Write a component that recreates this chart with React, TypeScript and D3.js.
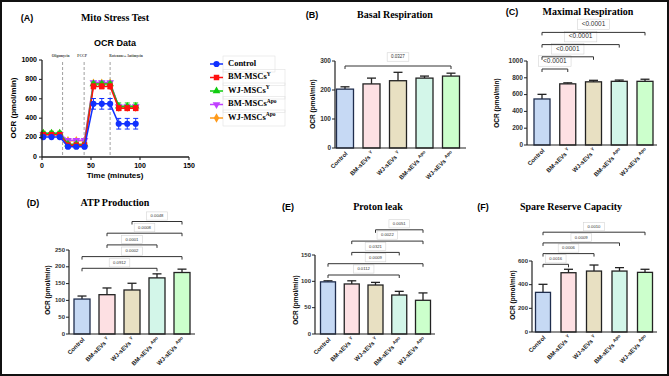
import React from 'react';
import * as d3 from 'd3';

// (A) Mito stress test time course
const times = [1.3, 9.7, 18.1, 26.5, 35, 43.4, 52.5, 61, 69.5, 78.3, 87, 95.6];
const injections = [21, 43, 69.5];
const injectionNames = ['Oligomycin', 'FCCP', 'Rotenone+ Antimycin'];

const ocrControl = [205, 205, 205, 106, 106, 106, 548, 548, 548, 343, 343, 343];
const ocrControlErr = [15, 15, 15, 15, 15, 15, 55, 55, 55, 55, 55, 55];
const ocrBmY = [230, 230, 230, 122, 122, 122, 728, 728, 728, 503, 503, 503];
const ocrBmYErr = [20, 20, 20, 15, 15, 15, 25, 25, 25, 25, 25, 25];
const ocrWjY = [245, 245, 245, 132, 132, 132, 752, 752, 752, 522, 522, 522];
const ocrWjYErr = [20, 20, 20, 15, 15, 15, 20, 20, 20, 35, 35, 35];
const ocrBmApo = [235, 235, 235, 172, 172, 172, 768, 768, 768, 520, 520, 520];
const ocrBmApoErr = [15, 15, 15, 15, 15, 15, 15, 15, 15, 20, 20, 20];
const ocrWjApo = [240, 240, 240, 168, 168, 168, 760, 760, 760, 512, 512, 512];
const ocrWjApoErr = [15, 15, 15, 15, 15, 15, 15, 15, 15, 20, 20, 20];

const seriesNames = ['Control', 'BM-MSCs', 'WJ-MSCs', 'BM-MSCs', 'WJ-MSCs'];
const seriesSup = ['', 'Y', 'Y', 'Apo', 'Apo'];
const seriesColors = ['#1030ff', '#ff1010', '#10cc10', '#c040ff', '#ff9a1a'];

// (B)-(F) bar panels
const groupNames = ['Control', 'BM-sEVs', 'WJ-sEVs', 'BM-sEVs', 'WJ-sEVs'];
const groupSup = ['', 'Y', 'Y', 'Apo', 'Apo'];
const barColors = ['#c6d9f4', '#fde0e3', '#e8e0c2', '#d3f6e9', '#ccffcc'];

const basalMean = [203, 221, 232, 241, 248];
const basalErr = [8, 20, 29, 7, 10];
const maximalMean = [548, 728, 752, 758, 758];
const maximalErr = [55, 12, 18, 15, 25];
const atpMean = [104, 117, 131, 167, 183];
const atpErr = [9, 20, 20, 12, 10];
const protonMean = [99, 95, 93, 74, 64];
const protonErr = [2, 6, 5, 7, 14];
const spareMean = [335, 501, 515, 515, 504];
const spareErr = [68, 29, 51, 29, 26];

type Sig = [number, number, string];
const basalSig: Sig[] = [[0, 4, '0.0327']];
const maximalSig: Sig[] = [[0, 1, '<0.0001'], [0, 2, '<0.0001'], [0, 3, '<0.0001'], [0, 4, '<0.0001']];
const atpSig: Sig[] = [[0, 3, '0.0912'], [0, 4, '0.0002'], [1, 3, '0.0001'], [1, 4, '0.0008'], [2, 4, '0.0048']];
const protonSig: Sig[] = [[0, 3, '0.0112'], [0, 4, '0.0009'], [1, 3, '0.0321'], [1, 4, '0.0022'], [2, 4, '0.0051']];
const spareSig: Sig[] = [[0, 1, '0.0016'], [0, 2, '0.0006'], [0, 3, '0.0009'], [0, 4, '0.0010']];

const SANS = 'Liberation Sans, Arial, sans-serif';
const SERIF = 'Liberation Serif, Times New Roman, serif';

type PanelCfg = {
  tag: string; title: string; tagX: number; titleX: number; headY: number;
  axisX: number; axisEnd: number; c0: number; c1: number; yTop: number; yBottom: number;
  max: number; step: number; barW: number; yLabelX: number; yLabelY: number;
  sigBase: number; sigGap: number; sigOff: number; sigFont: number; tickFont: number;
};

const BarPanel: React.FC<{ cfg: PanelCfg; means: number[]; errs: number[]; sigs: Sig[] }> = ({ cfg, means, errs, sigs }) => {
  const x = d3.scalePoint<number>().domain(d3.range(means.length)).range([cfg.c0, cfg.c1]);
  const y = d3.scaleLinear().domain([0, cfg.max]).range([cfg.yBottom, cfg.yTop]);
  const ticks = d3.range(0, cfg.max + 1, cfg.step);
  const hw = cfg.barW / 2;
  return (
    <g>
      <text x={cfg.tagX} y={cfg.headY} fontFamily={SANS} fontWeight="bold" fontSize={9} textAnchor="middle" dominantBaseline="middle">{cfg.tag}</text>
      <text x={cfg.titleX} y={cfg.headY} fontFamily={SERIF} fontWeight="bold" fontSize={10} textAnchor="middle" dominantBaseline="middle">{cfg.title}</text>
      <text transform={`translate(${cfg.yLabelX},${cfg.yLabelY}) rotate(-90)`} fontFamily={SANS} fontWeight="bold" fontSize={6.5} textAnchor="middle" dominantBaseline="middle">OCR (pmol/min)</text>
      {means.map((m, i) => (
        <g key={i}>
          <line x1={x(i)} x2={x(i)} y1={y(m)} y2={y(m + errs[i])} stroke="#222" strokeWidth={1.3} />
          <line x1={x(i)! - 4.5} x2={x(i)! + 4.5} y1={y(m + errs[i])} y2={y(m + errs[i])} stroke="#222" strokeWidth={1.3} />
          <rect x={x(i)! - hw} y={y(m)} width={cfg.barW} height={cfg.yBottom - y(m)} fill={barColors[i]} stroke={i === 0 ? '#1f2d4d' : '#222'} strokeWidth={1.3} />
        </g>
      ))}
      <line x1={cfg.axisX} x2={cfg.axisX} y1={cfg.yTop} y2={cfg.yBottom} stroke="#222" strokeWidth={1.2} />
      <line x1={cfg.axisX} x2={cfg.axisEnd} y1={cfg.yBottom} y2={cfg.yBottom} stroke="#222" strokeWidth={1.2} />
      {ticks.map(t => (
        <g key={t}>
          <line x1={cfg.axisX - 3} x2={cfg.axisX} y1={y(t)} y2={y(t)} stroke="#222" strokeWidth={1} />
          <text x={cfg.axisX - 4} y={y(t)} fontFamily={SANS} fontWeight="bold" fontSize={cfg.tickFont} textAnchor="end" dominantBaseline="middle" fill="#333">{t}</text>
        </g>
      ))}
      {means.map((_, i) => (
        <text key={i} transform={`translate(${x(i)! + 3},${cfg.yBottom + 6}) rotate(-45)`} fontFamily={SANS} fontWeight="bold" fontSize={6} textAnchor="end" fill="#222">
          {groupNames[i]}
          {groupSup[i] && <tspan dx={2} dy={-2.5} fontSize={4.5}>{groupSup[i]}</tspan>}
        </text>
      ))}
      {sigs.map(([a, b, lab], k) => {
        const by = cfg.sigBase - k * cfg.sigGap;
        const cx = (x(a)! + x(b)!) / 2;
        const w = lab.length * cfg.sigFont * 0.58 + 6;
        const h = cfg.sigFont + 4;
        const ly = by - cfg.sigOff;
        return (
          <g key={k}>
            <path d={`M${x(a)},${by + 3}V${by}H${x(b)}V${by + 3}`} fill="none" stroke="#333" strokeWidth={1} />
            <rect x={cx - w / 2} y={ly - h / 2} width={w} height={h} fill="#fff" stroke="#d4d4d4" strokeWidth={0.6} />
            <text x={cx} y={ly} fontFamily={SANS} fontSize={cfg.sigFont} textAnchor="middle" dominantBaseline="middle" fill="#333">{lab}</text>
          </g>
        );
      })}
    </g>
  );
};

const LinePanel: React.FC = () => {
  const x = d3.scaleLinear().domain([0, 150]).range([42, 189]);
  const y = d3.scaleLinear().domain([0, 1000]).range([157, 60]);
  const series = [
    { v: ocrControl, e: ocrControlErr },
    { v: ocrBmY, e: ocrBmYErr },
    { v: ocrWjY, e: ocrWjYErr },
    { v: ocrBmApo, e: ocrBmApoErr },
    { v: ocrWjApo, e: ocrWjApoErr },
  ];
  const symbols = [
    d3.symbol(d3.symbolCircle, 30)(),
    d3.symbol(d3.symbolSquare, 30)(),
    d3.symbol(d3.symbolTriangle, 26)(),
    d3.symbol(d3.symbolTriangle, 26)(),
    d3.symbol(d3.symbolDiamond, 26)(),
  ];
  const rot = [0, 0, 0, 180, 0];
  const line = d3.line<number>().x((_, i) => x(times[i])).y(d => y(d));
  const order = [4, 3, 2, 1, 0];
  return (
    <g>
      <text x={27} y={19} fontFamily={SANS} fontWeight="bold" fontSize={9} textAnchor="middle" dominantBaseline="middle">(A)</text>
      <text x={115} y={19} fontFamily={SERIF} fontWeight="bold" fontSize={10} textAnchor="middle" dominantBaseline="middle">Mito Stress Test</text>
      <text x={115} y={44} fontFamily={SANS} fontWeight="bold" fontSize={9} textAnchor="middle" dominantBaseline="middle">OCR Data</text>
      <text transform="translate(14,108) rotate(-90)" fontFamily={SANS} fontWeight="bold" fontSize={8} textAnchor="middle" dominantBaseline="middle">OCR (pmol/min)</text>
      <text x={115} y={176} fontFamily={SANS} fontWeight="bold" fontSize={8} textAnchor="middle" dominantBaseline="middle">Time (minutes)</text>
      {injections.map((t, i) => (
        <g key={i}>
          <line x1={x(t)} x2={x(t)} y1={62} y2={157} stroke="#888" strokeWidth={0.8} strokeDasharray="3,2" />
          <text x={i === 2 ? x(t) + 16 : x(t) - 2} y={57} fontFamily={SERIF} fontWeight="bold" fontSize={3.6} textAnchor="middle" fill="#444">{injectionNames[i]}</text>
        </g>
      ))}
      {order.map(s => (
        <g key={s}>
          <path d={line(series[s].v)!} fill="none" stroke={seriesColors[s]} strokeWidth={1.5} />
          {series[s].v.map((v, i) => (
            <g key={i} stroke={seriesColors[s]} strokeWidth={1}>
              <line x1={x(times[i])} x2={x(times[i])} y1={y(v - series[s].e[i])} y2={y(v + series[s].e[i])} />
              <line x1={x(times[i]) - 2.5} x2={x(times[i]) + 2.5} y1={y(v - series[s].e[i])} y2={y(v - series[s].e[i])} />
              <line x1={x(times[i]) - 2.5} x2={x(times[i]) + 2.5} y1={y(v + series[s].e[i])} y2={y(v + series[s].e[i])} />
            </g>
          ))}
          {series[s].v.map((v, i) => (
            <path key={'m' + i} d={symbols[s]!} transform={`translate(${x(times[i])},${y(v)}) rotate(${rot[s]})`} fill={seriesColors[s]} />
          ))}
        </g>
      ))}
      <line x1={42} x2={42} y1={60} y2={157} stroke="#222" strokeWidth={1.3} />
      <line x1={42} x2={189} y1={157} y2={157} stroke="#222" strokeWidth={1.3} />
      {y.ticks(5).map(t => (
        <g key={t}>
          <line x1={39} x2={42} y1={y(t)} y2={y(t)} stroke="#222" strokeWidth={1.1} />
          <text x={37} y={y(t)} fontFamily={SANS} fontWeight="bold" fontSize={7} textAnchor="end" dominantBaseline="middle">{t}</text>
        </g>
      ))}
      {[0, 50, 100, 150].map(t => (
        <g key={t}>
          <line x1={x(t)} x2={x(t)} y1={157} y2={160} stroke="#222" strokeWidth={1.1} />
          <text x={x(t)} y={166} fontFamily={SANS} fontWeight="bold" fontSize={7} textAnchor="middle" dominantBaseline="middle">{t}</text>
        </g>
      ))}
      {seriesNames.map((n, i) => {
        const ly = 64 + i * 13.5;
        return (
          <g key={i}>
            <rect x={223} y={ly - 8} width={i === 0 ? 52 : 62} height={16} fill="none" stroke="#e2e2e2" strokeWidth={0.6} />
            <line x1={210} x2={223} y1={ly} y2={ly} stroke={seriesColors[i]} strokeWidth={1.5} />
            <path d={symbols[i]!} transform={`translate(216.5,${ly}) rotate(${rot[i]})`} fill={seriesColors[i]} />
            <text x={228} y={ly} fontFamily={SERIF} fontWeight="bold" fontSize={8.5} dominantBaseline="middle">
              {n}
              {seriesSup[i] && <tspan dy={-3} fontSize={5.5}>{seriesSup[i]}</tspan>}
            </text>
          </g>
        );
      })}
    </g>
  );
};

const panelB: PanelCfg = { tag: '(B)', title: 'Basal Respiration', tagX: 312, titleX: 395, headY: 16, axisX: 335, axisEnd: 466, c0: 345, c1: 451, yTop: 61, yBottom: 148, max: 300, step: 100, barW: 17, yLabelX: 313, yLabelY: 104, sigBase: 66, sigGap: 12, sigOff: 9, sigFont: 4.5, tickFont: 6.5 };
const panelC: PanelCfg = { tag: '(C)', title: 'Maximal Respiration', tagX: 512, titleX: 588, headY: 13, axisX: 527, axisEnd: 657, c0: 542, c1: 645, yTop: 61, yBottom: 145, max: 1000, step: 200, barW: 16, yLabelX: 497, yLabelY: 103, sigBase: 69, sigGap: 12.2, sigOff: 8, sigFont: 6.5, tickFont: 6.5 };
const panelD: PanelCfg = { tag: '(D)', title: 'ATP Production', tagX: 33, titleX: 115, headY: 204, axisX: 69, axisEnd: 195, c0: 82, c1: 182, yTop: 250, yBottom: 334, max: 250, step: 50, barW: 16, yLabelX: 48, yLabelY: 290, sigBase: 268.3, sigGap: 11.7, sigOff: 5.5, sigFont: 4.2, tickFont: 6 };
const panelE: PanelCfg = { tag: '(E)', title: 'Proton leak', tagX: 288, titleX: 378, headY: 208, axisX: 315, axisEnd: 435, c0: 328, c1: 423, yTop: 255, yBottom: 334, max: 150, step: 50, barW: 15, yLabelX: 296, yLabelY: 300, sigBase: 275, sigGap: 11.3, sigOff: 6, sigFont: 4.2, tickFont: 6 };
const panelF: PanelCfg = { tag: '(F)', title: 'Spare Reserve Capacity', tagX: 483, titleX: 571, headY: 208, axisX: 532, axisEnd: 657, c0: 543, c1: 645, yTop: 261, yBottom: 332, max: 600, step: 200, barW: 15, yLabelX: 513, yLabelY: 295, sigBase: 264.3, sigGap: 10.7, sigOff: 5.5, sigFont: 4.2, tickFont: 6 };

export default function App() {
  return (
    <svg width={669} height={376} style={{ position: 'absolute', left: 0, top: 0, background: '#fff' }}>
      <rect x={1} y={1} width={667} height={374} fill="#fff" stroke="#111" strokeWidth={2} />
      <LinePanel />
      <BarPanel cfg={panelB} means={basalMean} errs={basalErr} sigs={basalSig} />
      <BarPanel cfg={panelC} means={maximalMean} errs={maximalErr} sigs={maximalSig} />
      <BarPanel cfg={panelD} means={atpMean} errs={atpErr} sigs={atpSig} />
      <BarPanel cfg={panelE} means={protonMean} errs={protonErr} sigs={protonSig} />
      <BarPanel cfg={panelF} means={spareMean} errs={spareErr} sigs={spareSig} />
    </svg>
  );
}
